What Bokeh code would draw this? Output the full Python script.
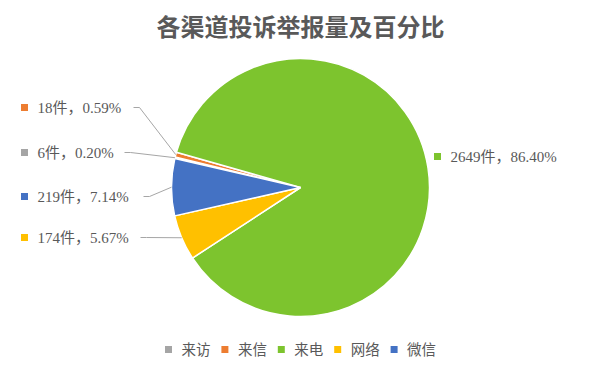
import math
from bokeh.plotting import figure
from bokeh.models import Range1d
from bokeh.core.properties import value
from bokeh.embed import file_html
from bokeh.resources import INLINE

# ---- data ----
categories = ["来访", "来信", "来电", "网络", "微信"]
counts = [6, 18, 2649, 174, 219]
percents = ["0.20%", "0.59%", "86.40%", "5.67%", "7.14%"]
title = "各渠道投诉举报量及百分比"

# ---- style / layout ----
colors = ["#A5A5A5", "#ED7D31", "#7DC42E", "#FFC000", "#4472C4"]
text_color = "#595959"
W, H = 583, 359
CX, CY, R = 300, 187, 129          # screen px
FIRST_ANGLE = 167.0                # degrees (math), start of first slice, clockwise order
label_x = [37, 37, 450, 37, 37]
label_y = [152, 107, 156, 237, 196]
line_x0 = [124, 133, None, 140, 143]
legend_x0, legend_step, legend_y = 168, 56.4, 348
label_font = value("Liberation Serif, Noto Sans CJK SC")
cjk_font = value("Noto Sans CJK SC")

def sy(y):
    return 375 - y

p = figure(width=W, height=H, output_backend="svg", toolbar_location=None,
           x_range=Range1d(0, W), y_range=Range1d(375 - H, 375), min_border=0)
p.axis.visible = False
p.grid.visible = False
p.outline_line_color = None
p.background_fill_color = "white"
p.border_fill_color = "white"

total = sum(counts)
cum = 0.0
mids = []
for c, col in zip(counts, colors):
    end = FIRST_ANGLE - cum * 360.0 / total
    start = end - c * 360.0 / total
    cum += c
    mids.append((start + end) / 2)
    p.wedge(x=CX, y=sy(CY), radius=R, radius_units="screen",
            start_angle=start, end_angle=end, start_angle_units="deg", end_angle_units="deg",
            direction="anticlock", fill_color=col, line_color="white", line_width=1.5)

# data labels
for i, (c, pct, col) in enumerate(zip(counts, percents, colors)):
    lx, ly = label_x[i], label_y[i]
    p.scatter([lx - 13], [sy(ly)], marker="square", size=7, fill_color=col, line_color=None)
    p.text([lx], [sy(ly)], text=[f"{c}件，{pct}"], text_font=label_font, text_font_size="15px",
           text_color=text_color, text_baseline="middle", text_align="left")
    if line_x0[i] is not None:
        ang = math.radians(mids[i])
        ex = CX + R * math.cos(ang)
        ey = CY - R * math.sin(ang)
        x0 = line_x0[i]
        p.line([x0, x0 + 6, ex], [sy(ly), sy(ly), sy(ey)], line_color="#A6A6A6", line_width=1)

# legend
for i, (cat, col) in enumerate(zip(categories, colors)):
    x = legend_x0 + i * legend_step
    p.scatter([x], [sy(legend_y + 1)], marker="square", size=7, fill_color=col, line_color=None)
    p.text([x + 13], [sy(legend_y)], text=[cat], text_font=cjk_font, text_font_size="14.5px",
           text_color=text_color, text_baseline="middle", text_align="left")

# title
p.text([300], [sy(25)], text=[title], text_font=cjk_font, text_font_size="24px",
       text_font_style="bold", text_color=text_color, text_baseline="middle", text_align="center")

open("out.html", "w").write(file_html(p, INLINE))
